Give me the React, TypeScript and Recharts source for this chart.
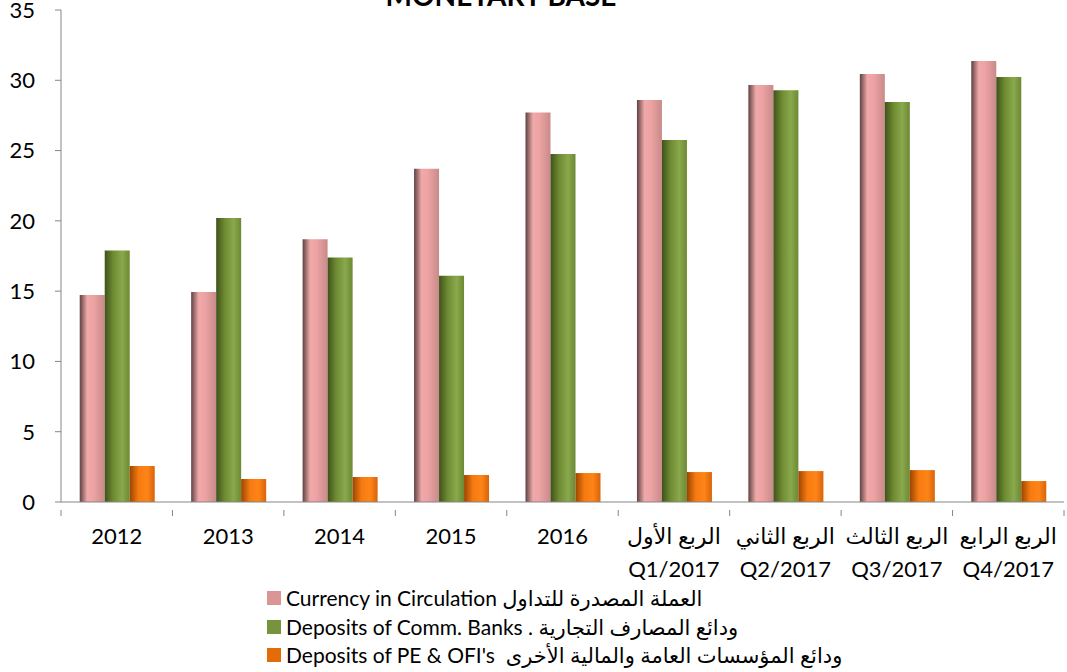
import React from 'react'
import { BarChart, Bar, XAxis, YAxis } from 'recharts'

const categories = [
  '2012', '2013', '2014', '2015', '2016',
  'الربع الأول\nQ1/2017', 'الربع الثاني\nQ2/2017', 'الربع الثالث\nQ3/2017', 'الربع الرابع\nQ4/2017',
]
const currency = [14.72, 14.94, 18.7, 23.7, 27.7, 28.6, 29.66, 30.44, 31.37]
const commBanks = [17.9, 20.2, 17.4, 16.1, 24.75, 25.75, 29.3, 28.45, 30.23]
const peOfi = [2.56, 1.64, 1.78, 1.92, 2.06, 2.13, 2.2, 2.27, 1.49]
const yTicks = [0, 5, 10, 15, 20, 25, 30, 35]

const seriesNames = [
  'Currency in Circulation العملة المصدرة للتداول',
  'Deposits of Comm. Banks . ودائع المصارف التجارية',
  "Deposits of PE & OFI's  ودائع المؤسسات العامة والمالية الأخرى",
]
const legendColors = ['#D99694', '#77933C', '#E36C09']

const data = categories.map((c, i) => ({ cat: c, a: currency[i], b: commBanks[i], c: peOfi[i] }))

const FONT = 'Lato, "DejaVu Sans", sans-serif'
const BAND = 1003 / categories.length

const XTick = (props: any) => {
  const { x, y, payload, index } = props
  const lines = String(payload.value).split('\n')
  return (
    <g>
      <line x1={x - BAND / 2} x2={x - BAND / 2} y1={y} y2={y + 6} stroke="#868686" />
      {index === categories.length - 1 && (
        <line x1={x + BAND / 2} x2={x + BAND / 2} y1={y} y2={y + 6} stroke="#868686" />
      )}
      {lines.map((l, i) => (
        <text key={i} x={x} y={y + 34 + i * 33} textAnchor="middle" fontSize={22} fill="#000" fontFamily={FONT}>
          {l}
        </text>
      ))}
    </g>
  )
}

export default function App() {
  return (
    <div style={{ position: 'absolute', left: 0, top: 0, width: 1067, height: 672, background: '#fff', overflow: 'hidden' }}>
      <div style={{ position: 'absolute', left: 0, width: 1002, top: -22, textAlign: 'center', fontFamily: FONT, fontWeight: 'bold', fontSize: 28, zIndex: 2 }}>
        MONETARY BASE
      </div>
      <BarChart width={1067} height={672} data={data} margin={{ top: 10, right: 3, bottom: 110, left: 0 }}
        barCategoryGap="16.8%" barGap={0}>
        <defs>
          <linearGradient id="gPink" x1="0" y1="0" x2="1" y2="0">
            <stop offset="0%" stopColor="#5e4242" />
            <stop offset="30%" stopColor="#f0a8a8" />
            <stop offset="55%" stopColor="#eda3a3" />
            <stop offset="100%" stopColor="#c98a8a" />
          </linearGradient>
          <linearGradient id="gGreen" x1="0" y1="0" x2="1" y2="0">
            <stop offset="0%" stopColor="#3f5219" />
            <stop offset="35%" stopColor="#6f8c33" />
            <stop offset="70%" stopColor="#8aa84c" />
            <stop offset="100%" stopColor="#6c8934" />
          </linearGradient>
          <linearGradient id="gOrange" x1="0" y1="0" x2="1" y2="0">
            <stop offset="0%" stopColor="#9c4400" />
            <stop offset="35%" stopColor="#f57a10" />
            <stop offset="70%" stopColor="#ff8418" />
            <stop offset="100%" stopColor="#d8640a" />
          </linearGradient>
        </defs>
        <XAxis dataKey="cat" interval={0} height={60} tickLine={false} tick={<XTick />}
          axisLine={{ stroke: '#868686' }} />
        <YAxis width={61} domain={[0, 35]} ticks={yTicks} interval={0} tickSize={6} tickMargin={20}
          axisLine={{ stroke: '#868686' }} tickLine={{ stroke: '#868686' }}
          tick={{ fontSize: 22, fill: '#000', fontFamily: FONT }} />
        <Bar dataKey="a" name={seriesNames[0]} fill="url(#gPink)" isAnimationActive={false} />
        <Bar dataKey="b" name={seriesNames[1]} fill="url(#gGreen)" isAnimationActive={false} />
        <Bar dataKey="c" name={seriesNames[2]} fill="url(#gOrange)" isAnimationActive={false} />
      </BarChart>
      <div style={{ position: 'absolute', left: 267, top: 584, fontFamily: FONT, fontSize: 21, color: '#000' }}>
        {seriesNames.map((n, i) => (
          <div key={i} style={{ display: 'flex', alignItems: 'center', height: 28.5, whiteSpace: 'pre', direction: 'ltr' }}>
            <span style={{ width: 14, height: 14, background: legendColors[i], marginRight: 5, display: 'inline-block' }} />
            <span>{n}</span>
          </div>
        ))}
      </div>
    </div>
  )
}
